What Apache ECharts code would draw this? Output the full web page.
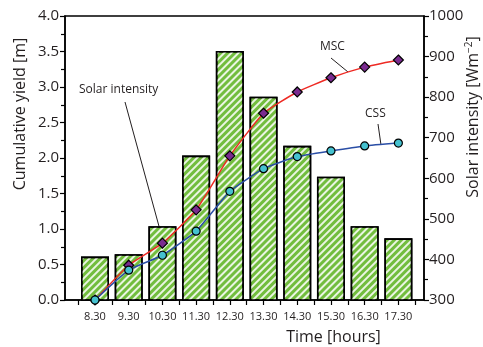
<!DOCTYPE html>
<html>
<head>
<meta charset="utf-8">
<script src="https://cdn.jsdelivr.net/npm/echarts@6/dist/echarts.min.js"></script>
<style>
  html, body { margin: 0; padding: 0; background: #fff; }
  #chart { width: 483px; height: 347px; }
</style>
</head>
<body>
<div id="chart"></div>
<script>
const times = ["8.30", "9.30", "10.30", "11.30", "12.30", "13.30", "14.30", "15.30", "16.30", "17.30"];
const solar = [407, 413, 482, 656, 914, 801, 680, 604, 482, 452];
const msc = [0, 0.49, 0.80, 1.27, 2.03, 2.63, 2.93, 3.13, 3.28, 3.38];
const css = [0, 0.42, 0.63, 0.97, 1.53, 1.85, 2.02, 2.10, 2.17, 2.21];

const font = "Open Sans";
const idx = times.map((_, i) => i);
const tickPos = [];
for (let i = 0; i < times.length; i++) tickPos.push(i - 0.5, i);
tickPos.push(times.length - 0.5);

const axisBase = {
  splitLine: { show: false },
  axisLine: { show: true, onZero: false, lineStyle: { color: "#000", width: 1.5 } },
  axisTick: { length: 5, lineStyle: { color: "#000", width: 1.2 } },
  minorTick: { show: true, splitNumber: 2, length: 4, lineStyle: { color: "#000", width: 1.2 } },
};

const chart = echarts.init(document.getElementById("chart"), null, { renderer: "canvas" });
chart.setOption({
  animation: false,
  backgroundColor: "#fff",
  textStyle: { fontFamily: font, color: "#231f20" },
  grid: {
    left: 65, right: 59, top: 16, bottom: 47,
    outerBoundsMode: "none",
    show: true, borderColor: "#000", borderWidth: 1.5,
  },
  xAxis: {
    type: "value",
    min: -0.89,
    max: 9.76,
    splitLine: { show: false },
    axisLine: { onZero: false, lineStyle: { color: "#000", width: 1.5 } },
    axisTick: { customValues: tickPos, length: 5, lineStyle: { color: "#000", width: 1.2 } },
    axisLabel: {
      customValues: idx,
      formatter: (v) => times[Math.round(v)],
      fontSize: 11, color: "#231f20", margin: 11,
    },
    name: "Time [hours]",
    nameLocation: "middle",
    nameGap: 29,
    nameTextStyle: { fontSize: 16, color: "#231f20", padding: [0, 0, 0, 178] },
  },
  yAxis: [
    {
      ...axisBase,
      type: "value", min: 0, max: 4, interval: 0.5,
      axisLabel: { formatter: (v) => v.toFixed(1), fontSize: 15, color: "#231f20", margin: 6 },
      name: "Cumulative yield [m]",
      nameLocation: "middle",
      nameMoveOverlap: false,
      nameGap: 37,
      nameTextStyle: { fontSize: 16, color: "#231f20", padding: [0, 0, 0, 88] },
    },
    {
      ...axisBase,
      type: "value", min: 300, max: 1000, interval: 100,
      axisLabel: { formatter: (v) => String(v), fontSize: 15, color: "#231f20", margin: 5 },
      name: "Solar intensity [Wm{sup|−2}]",
      nameLocation: "middle",
      nameMoveOverlap: false,
      nameGap: 40,
      nameTextStyle: {
        fontSize: 16, color: "#231f20", padding: [0, 0, 0, 82],
        rich: { sup: { fontSize: 10, verticalAlign: "top", padding: [0, 0, 8, 0] } },
      },
    },
  ],
  series: [
    {
      name: "Solar intensity",
      type: "bar",
      yAxisIndex: 1,
      barWidth: 28,
      data: solar.map((v, i) => [i, v]),
      itemStyle: {
        color: "#72bd3e",
        borderColor: "#000",
        borderWidth: 1.6,
        decal: {
          symbol: "rect",
          color: "rgba(255,255,255,0.85)",
          dashArrayX: [1, 0],
          dashArrayY: [1.1, 2.2],
          rotation: -Math.PI / 4,
        },
      },
    },
    {
      name: "MSC",
      type: "line",
      smooth: 0.15,
      data: msc.map((v, i) => [i, v]),
      symbol: "diamond",
      symbolSize: 10,
      lineStyle: { color: "#ee2a24", width: 1.5 },
      itemStyle: { color: "#7a2b8f", borderColor: "#000", borderWidth: 1.2 },
      z: 3,
    },
    {
      name: "CSS",
      type: "line",
      smooth: 0.15,
      data: css.map((v, i) => [i, v]),
      symbol: "circle",
      symbolSize: 8,
      lineStyle: { color: "#2a4ea6", width: 1.5 },
      itemStyle: { color: "#45c1cf", borderColor: "#000", borderWidth: 1.2 },
      z: 3,
    },
  ],
  graphic: [
    { type: "text", left: 79, top: 84, style: { text: "Solar intensity", font: `12px "${font}"`, fill: "#231f20" } },
    { type: "line", shape: { x1: 125, y1: 102, x2: 160, y2: 230 }, style: { stroke: "#231f20", lineWidth: 1 } },
    { type: "text", left: 320, top: 41, style: { text: "MSC", font: `12px "${font}"`, fill: "#231f20" } },
    { type: "line", shape: { x1: 331, y1: 58, x2: 348, y2: 72 }, style: { stroke: "#231f20", lineWidth: 1 } },
    { type: "text", left: 365, top: 108, style: { text: "CSS", font: `12px "${font}"`, fill: "#231f20" } },
    { type: "line", shape: { x1: 378, y1: 124, x2: 381, y2: 145 }, style: { stroke: "#231f20", lineWidth: 1 } },
  ],
});
</script>
</body>
</html>
